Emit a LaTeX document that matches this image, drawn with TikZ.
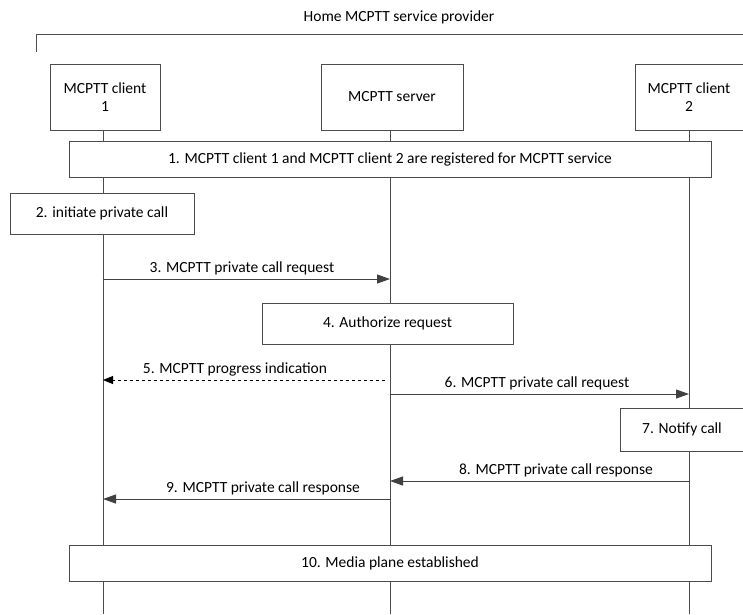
\documentclass[tikz,border=0pt]{standalone}
\usepackage{fontspec}
\setmainfont{Carlito}
\usetikzlibrary{arrows.meta}
\begin{document}
\begin{tikzpicture}[x=1pt,y=-1pt,
  font=\fontsize{15.5}{18.5}\selectfont,
  ln/.style={draw=black!70,line width=0.9pt},
  boxn/.style={ln,fill=white,inner sep=0pt,align=center},
  msg/.style={ln,-{Triangle[length=13pt,width=9pt]},draw=black!75},
  lbl/.style={inner sep=1pt,anchor=south}]
\useasboundingbox (0,0) rectangle (743,614);
% title and bracket
\node (title) at (399,17) {Home MCPTT service provider};
\coordinate (brA) at (36,52);
\coordinate (brB) at (36,34);
\coordinate (brC) at (743,34);
\draw[ln] (brA) -- (brB) -- (brC);
% participants
\node[boxn,minimum width=110pt,minimum height=66pt] (c1) at (105,97) {MCPTT client\\1};
\node[boxn,minimum width=142pt,minimum height=66pt] (srv) at (392,97) {MCPTT server};
\node[boxn,minimum width=108pt,minimum height=66pt] (c2) at (689,97) {MCPTT client\\2};
% lifelines
\coordinate (e1) at (103,614);
\coordinate (es) at (390,614);
\coordinate (e2) at (689,614);
\draw[ln] (c1.south -| e1) -- (e1);
\draw[ln] (srv.south -| es) -- (es);
\draw[ln] (c2.south -| e2) -- (e2);
% step boxes
\node[boxn,minimum width=642pt,minimum height=36pt] (s1) at (390,159) {1. MCPTT client 1 and MCPTT client 2 are registered for MCPTT service};
\node[boxn,minimum width=184pt,minimum height=41pt] (s2) at (102,213.5) {2. initiate private call};
\node[boxn,minimum width=251pt,minimum height=41pt] (s4) at (387.5,323.5) {4. Authorize request};
\node[boxn,minimum width=123pt,minimum height=43pt] (s7) at (682,429.5) {7. Notify call};
\node[boxn,minimum width=642pt,minimum height=36pt] (s10) at (390,563) {10. Media plane established};
% message endpoints
\coordinate (m3a) at (103,279); \coordinate (m3b) at (390,279);
\coordinate (m5a) at (385,380); \coordinate (m5b) at (103,380);
\coordinate (m6a) at (390,394); \coordinate (m6b) at (689,394);
\coordinate (m8a) at (689,481); \coordinate (m8b) at (390,481);
\coordinate (m9a) at (390,499); \coordinate (m9b) at (103,499);
% messages
\draw[msg] (m3a) -- (m3b);
\node[lbl] (l3) at (242,276) {3. MCPTT private call request};
\draw[msg,dashed,draw=black,-{Triangle[length=10pt,width=8pt]}] (m5a) -- (m5b);
\node[lbl] (l5) at (235,377) {5. MCPTT progress indication};
\draw[msg] (m6a) -- (m6b);
\node[lbl] (l6) at (537,391) {6. MCPTT private call request};
\draw[msg] (m8a) -- (m8b);
\node[lbl] (l8) at (556,478) {8. MCPTT private call response};
\draw[msg] (m9a) -- (m9b);
\node[lbl] (l9) at (263,496) {9. MCPTT private call response};
\end{tikzpicture}
\end{document}
